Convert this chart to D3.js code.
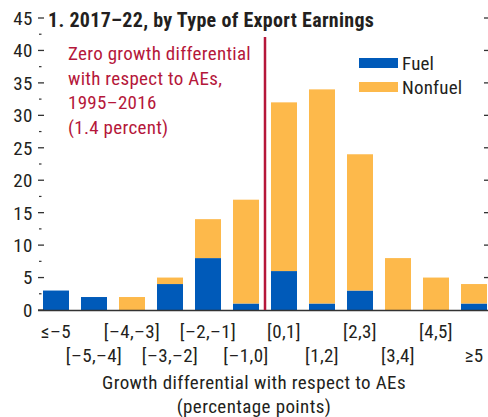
<!DOCTYPE html>
<html><head><meta charset="utf-8">
<script src="https://cdn.jsdelivr.net/npm/d3@7"></script>
<style>
html,body{margin:0;padding:0;background:#fff;}
svg text{font-family:"Roboto Condensed","Liberation Sans Narrow","Arial Narrow","Liberation Sans",sans-serif;}
</style></head>
<body><svg id="c" width="488" height="417"></svg>
<script>
const categories = ["≤–5","[–5,–4]","[–4,–3]","[–3,–2]","[–2,–1]","[–1,0]","[0,1]","[1,2]","[2,3]","[3,4]","[4,5]","≥5"];
const fuel    = [3, 2, 0, 4, 8, 1, 6, 1, 3, 0, 0, 1];
const nonfuel = [0, 0, 2, 1, 6, 16, 26, 33, 21, 8, 5, 3];
const yTicks = [0,5,10,15,20,25,30,35,40,45];
const yMinor = [2.5,7.5,12.5,17.5,22.5,27.5,32.5,37.5,42.5];
const seriesNames = ["Fuel","Nonfuel"];
const colors = {Fuel:"#005ab9", Nonfuel:"#fdb94b"};
const title = "1. 2017–22, by Type of Export Earnings";
const annotation = ["Zero growth differential","with respect to AEs,","1995–2016","(1.4 percent)"];
const xTitle = ["Growth differential with respect to AEs","(percentage points)"];
const refCategory = "[0,1]";

const svg = d3.select("#c");
const x = d3.scaleBand().domain(categories).range([37,493]).paddingInner(0.316).paddingOuter(0.158);
const y = d3.scaleLinear().domain([0,45]).range([310,18]);

const rows = categories.map((c,i)=>({cat:c, Fuel:fuel[i], Nonfuel:nonfuel[i]}));
const stack = d3.stack().keys(seriesNames)(rows);

svg.append("g").selectAll("g").data(stack).join("g")
  .attr("fill", d=>colors[d.key])
  .selectAll("rect").data(d=>d).join("rect")
  .attr("x", d=>x(d.data.cat)).attr("width", x.bandwidth())
  .attr("y", d=>y(d[1])).attr("height", d=>y(d[0])-y(d[1]));

// left axis
const la = svg.append("g");
la.selectAll("line.maj").data(yTicks).join("line")
  .attr("x1",38).attr("x2",44).attr("y1",d=>y(d)).attr("y2",d=>y(d))
  .attr("stroke","#333").attr("stroke-width",1.3);
la.selectAll("line.min").data(yMinor).join("line")
  .attr("x1",39).attr("x2",41.5).attr("y1",d=>y(d)).attr("y2",d=>y(d))
  .attr("stroke","#333").attr("stroke-width",1.2);
la.selectAll("text").data(yTicks).join("text")
  .attr("x",33).attr("y",d=>y(d)).attr("dy","0.36em").attr("text-anchor","end")
  .attr("font-size",19).attr("letter-spacing",0.5).attr("fill","#231f20").text(d=>d);

// right axis ticks
svg.append("g").selectAll("line").data(yTicks.filter(d=>d>0)).join("line")
  .attr("x1",484).attr("x2",488).attr("y1",d=>y(d)).attr("y2",d=>y(d))
  .attr("stroke","#333").attr("stroke-width",1.3);

// baseline
svg.append("line").attr("x1",38).attr("x2",488).attr("y1",y(0)+0.5).attr("y2",y(0)+0.5)
  .attr("stroke","#333").attr("stroke-width",1.6);

// reference line
const rx = x(refCategory) - x.step()*x.paddingInner()/2;
svg.append("line").attr("x1",rx).attr("x2",rx).attr("y1",37).attr("y2",y(0))
  .attr("stroke","#b5173a").attr("stroke-width",2.5);

// x labels
svg.append("g").selectAll("text").data(categories).join("text")
  .attr("x",d=>x(d)+x.bandwidth()/2)
  .attr("y",(d,i)=> i%2===0 ? 331 : 355)
  .attr("dy","0.36em").attr("text-anchor","middle").attr("font-size",19).attr("letter-spacing",0.4).attr("fill","#231f20")
  .text(d=>d);

// x title
svg.append("g").selectAll("text").data(xTitle).join("text")
  .attr("x",254).attr("y",(d,i)=>382+i*24).attr("dy","0.36em").attr("text-anchor","middle")
  .attr("font-size",19).attr("letter-spacing",0.4).attr("fill","#231f20").text(d=>d);

// title
svg.append("text").attr("x",48).attr("y",20).attr("dy","0.36em")
  .attr("font-size",20).attr("letter-spacing",0.3).attr("font-weight","bold").attr("fill","#231f20").text(title);

// annotation
svg.append("g").selectAll("text").data(annotation).join("text")
  .attr("x",68).attr("y",(d,i)=>53+i*24.7).attr("dy","0.36em")
  .attr("font-size",19).attr("letter-spacing",0.3).attr("fill","#b5173a").text(d=>d);

// legend
const lg = svg.append("g");
seriesNames.forEach((s,i)=>{
  lg.append("rect").attr("x",359).attr("y",58+i*24).attr("width",39).attr("height",10).attr("fill",colors[s]);
  lg.append("text").attr("x",402).attr("y",63+i*24).attr("dy","0.36em").attr("font-size",19).attr("letter-spacing",0.2).attr("fill","#231f20").text(s);
});
</script></body></html>
